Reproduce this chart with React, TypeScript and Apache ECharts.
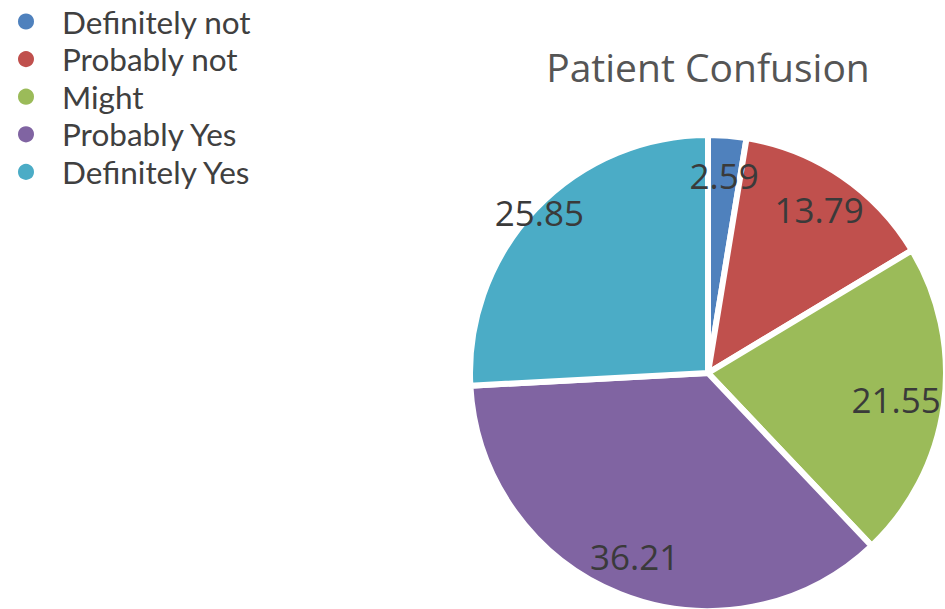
import React, { useEffect, useRef } from "react";
import * as echarts from "echarts";

const categories = ["Definitely not", "Probably not", "Might", "Probably Yes", "Definitely Yes"];
const values = [2.59, 13.79, 21.55, 36.21, 25.85];
const colors = ["#4F81BD", "#C0504D", "#9BBB59", "#8064A2", "#4BACC6"];
const titleText = "Patient Confusion";

export default function App() {
  const ref = useRef<HTMLDivElement>(null);
  useEffect(() => {
    if (!ref.current) return;
    const chart = echarts.init(ref.current, undefined, { renderer: "svg" });
    const font = "'Open Sans', 'Noto Sans', sans-serif";
    const legendFont = "Lato, 'Open Sans', sans-serif";
    const data = categories.map((name, i) => ({ name, value: values[i], itemStyle: { color: colors[i] } }));
    const labelShift: Record<number, { dx: number; dy: number }> = {
      2: { dx: -8, dy: 0 },
      4: { dx: -25, dy: -24 },
    };
    chart.setOption({
      animation: false,
      backgroundColor: "#ffffff",
      legend: {
        orient: "vertical",
        left: 11,
        top: -1,
        data: categories,
        icon: "circle",
        itemWidth: 18,
        itemHeight: 18,
        itemGap: 2.6,
        textStyle: { fontFamily: legendFont, fontSize: 31.5, color: "#404040", lineHeight: 35, padding: [0, 0, 0, 22] },
      },
      graphic: [
        {
          type: "text",
          x: 708,
          y: 66,
          style: {
            text: titleText,
            fontFamily: font,
            fontSize: 39,
            fill: "#555555",
            textAlign: "center",
            textVerticalAlign: "middle",
          },
        },
      ],
      series: [
        {
          type: "pie",
          center: [708, 373],
          radius: [0, 238],
          startAngle: 90,
          clockwise: true,
          data,
          label: { show: false },
          labelLine: { show: false },
          itemStyle: { borderColor: "#ffffff", borderWidth: 6 },
          silent: true,
        },
        {
          type: "pie",
          center: [708, 373],
          radius: [152, 238],
          startAngle: 90,
          clockwise: true,
          avoidLabelOverlap: false,
          data: categories.map((name, i) => ({ name, value: values[i] })),
          itemStyle: { color: "rgba(0,0,0,0)" },
          label: {
            show: true,
            position: "inside",
            formatter: (p: any) => p.value.toFixed(2),
            fontFamily: font,
            fontSize: 35,
            color: "#3a3a3a",
          },
          labelLine: { show: false },
          labelLayout: (p: any) => labelShift[p.dataIndex] || {},
          silent: true,
        },
      ],
    });
    return () => chart.dispose();
  }, []);
  return <div ref={ref} style={{ position: "fixed", left: 0, top: 0, width: 945, height: 609 }} />;
}
